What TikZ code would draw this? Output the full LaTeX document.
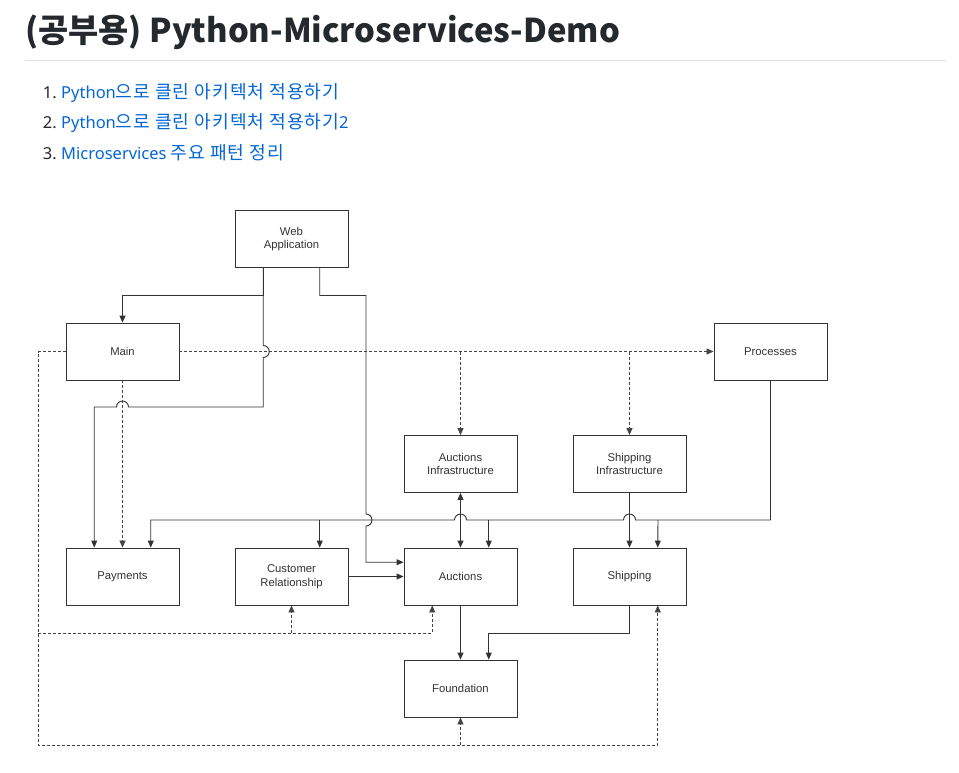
\documentclass[tikz,border=0pt]{standalone}
\usepackage{fontspec}
\setmainfont{Liberation Sans}
\newfontfamily\kr{Noto Sans CJK KR}
\newfontfamily\krsp[LetterSpace=5.0]{Noto Sans CJK KR}
\newfontfamily\lat{Noto Sans}
\usetikzlibrary{arrows.meta}
\definecolor{linec}{HTML}{333333}
\definecolor{dashc}{HTML}{444444}
\definecolor{linkc}{HTML}{0366D6}
\definecolor{txt}{HTML}{24292E}
\definecolor{rulec}{HTML}{DFE2E5}
\newcommand{\hg}[1]{{\krsp\fontsize{18.2}{20}\selectfont #1}}
\begin{document}
\begin{tikzpicture}[x=1pt,y=-1pt,
  box/.style={draw=linec, line width=0.9pt, fill=white, minimum width=113pt, minimum height=57pt, inner sep=0pt, align=center, font=\fontsize{11.3}{13.5}\selectfont, text=linec},
  conn/.style={draw=linec, line width=0.9pt},
  arr/.style={-{Triangle[length=7pt,width=6pt]}},
  barr/.style={{Triangle[length=7pt,width=6pt]}-{Triangle[length=7pt,width=6pt]}},
  dsh/.style={draw=dashc, line width=0.8pt, dash pattern=on 3pt off 2pt},
  num/.style={anchor=base east, inner sep=0pt, font=\lat\fontsize{16.5}{20}\selectfont, text=txt},
  lnk/.style={anchor=base west, inner sep=0pt, font=\lat\fontsize{16.5}{20}\selectfont, text=linkc},
]
\useasboundingbox (0,0) rectangle (959,772);
\fill[white] (0,0) rectangle (959,772);

% header
\node[anchor=base west, inner sep=0pt, font=\kr\bfseries\fontsize{32.8}{38}\selectfont, text=txt] (title) at (25,42) {(공부용) Python-Microservices-Demo};
\draw[rulec, line width=1pt] (25,60.5) -- (946,60.5);
\node[num] (n1) at (57,98) {1.};
\node[lnk] (l1) at (61,98) {Python\hg{으로 클린 아키텍처 적용하기}};
\node[num] (n2) at (57,128) {2.};
\node[lnk] (l2) at (61,128) {Python\hg{으로 클린 아키텍처 적용하기}2};
\node[num] (n3) at (57,159) {3.};
\node[lnk] (l3) at (61,159) {Microservices \hg{주요 패턴 정리}};

% boxes
\node[box] (web)  at (291.5,239)   {Web\\Application};
\node[box] (main) at (122.5,351.5) {Main};
\node[box] (proc) at (770.5,351.5) {Processes};
\node[box] (ainf) at (460.5,464)   {Auctions\\Infrastructure};
\node[box] (sinf) at (629.5,464)   {Shipping\\Infrastructure};
\node[box] (pay)  at (122.5,576.5) {Payments};
\node[box] (crm)  at (291.5,576.5) {Customer\\Relationship};
\node[box] (auc)  at (460.5,576.5) {Auctions};
\node[box] (shp)  at (629.5,576.5) {Shipping};
\node[box] (fnd)  at (460.5,688.5) {Foundation};

% dashed connectors
\draw[dsh,arr] (main.east) -- (proc.west);
\draw[dsh,arr] (460.5,351.5) -- (ainf.north);
\draw[dsh,arr] (629.5,351.5) -- (sinf.north);
\draw[dsh,arr] (main.south) -- (pay.north);
\draw[dsh,arr] (main.west) -- (38,351.5) -- (38,745) -| ([xshift=28.25pt]shp.south);
\draw[dsh,arr] (38,633) -| ([xshift=-28.25pt]auc.south);
\draw[dsh,arr] (291.5,633) -- (crm.south);
\draw[dsh,arr] (460.5,745) -- (fnd.south);

% solid connectors
\draw[conn,arr] ([xshift=-28.25pt]web.south) |- (122.5,295.5) -- (main.north);
\draw[conn,arr] ([xshift=-28.25pt]web.south) -- (263.25,345.5) arc[start angle=90,end angle=-90,radius=6pt]
   -- (263.25,407) -- (128.5,407) arc[start angle=0,end angle=180,radius=6pt] -| ([xshift=-28.25pt]pay.north);
\draw[conn,arr] ([xshift=28.25pt]web.south) |- (366,295.5) -- (366,514)
   arc[start angle=90,end angle=-90,radius=6pt] |- ([yshift=14.25pt]auc.west);
\draw[conn,arr] (crm.east) -- (auc.west);
\draw[conn,arr] (proc.south) -- (770.5,520) -- (635.5,520) arc[start angle=0,end angle=180,radius=6pt]
   -- (466.5,520) arc[start angle=0,end angle=180,radius=6pt] -| ([xshift=28.25pt]pay.north);
\draw[conn,arr] (658,520) -- ([xshift=28.25pt]shp.north);
\draw[conn,arr] (488.75,520) -- ([xshift=28.25pt]auc.north);
\draw[conn,arr] (319.75,520) -- ([xshift=28.25pt]crm.north);
\draw[conn,barr] (ainf.south) -- (auc.north);
\draw[conn,arr] (sinf.south) -- (shp.north);
\draw[conn,arr] (auc.south) -- (fnd.north);
\draw[conn,arr] (shp.south) -- ++(0,28) -| ([xshift=28.25pt]fnd.north);
\end{tikzpicture}
\end{document}
